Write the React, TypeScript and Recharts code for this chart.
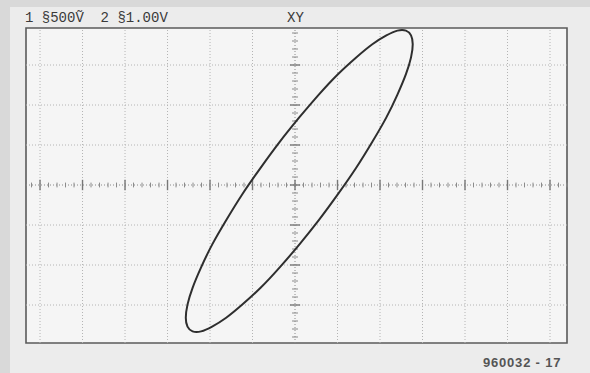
import React from "react";
import {
  LineChart,
  Line,
  XAxis,
  YAxis,
  ReferenceLine,
  ReferenceArea,
} from "recharts";

// XY trace: channel 1 (horizontal) against channel 2 (vertical), in screen divisions
const traceX = [
  0.1, 0.56, 1.01, 1.44, 1.82, 2.15, 2.41, 2.61, 2.73, 2.77, 2.73, 2.61, 2.41,
  2.15, 1.82, 1.44, 1.01, 0.56, 0.1, -0.36, -0.81, -1.24, -1.62, -1.95, -2.21,
  -2.41, -2.53, -2.57, -2.53, -2.41, -2.21, -1.95, -1.62, -1.24, -0.81, -0.36,
  0.1,
];
const traceY = [
  1.69, 2.26, 2.77, 3.19, 3.52, 3.74, 3.86, 3.86, 3.74, 3.52, 3.19, 2.77, 2.26,
  1.69, 1.08, 0.43, -0.23, -0.88, -1.49, -2.06, -2.57, -2.99, -3.32, -3.54,
  -3.66, -3.66, -3.54, -3.32, -2.99, -2.57, -2.06, -1.49, -0.88, -0.23, 0.43,
  1.08, 1.69,
];

// graticule
const gridX = [-6, -5, -4, -3, -2, -1, 1, 2, 3, 4, 5, 6];
const gridY = [-3, -2, -1, 1, 2, 3];
const X_DOMAIN: [number, number] = [-6.33, 6.4];
const Y_DOMAIN: [number, number] = [-3.95, 3.925];

const headerText = "1 §500Ṽ  2 §1.00V";
const modeText = "XY";
const figureText = "960032 - 17";

const data = traceX.map((x, i) => ({ x, y: traceY[i] }));

// minor tick positions on the centre axes (5 per division)
const minorX: number[] = [];
for (let k = -31; k <= 32; k++) minorX.push(k / 5);
const minorY: number[] = [];
for (let k = -19; k <= 19; k++) minorY.push(k / 5);

const GRID = "#b4b4b4";
const AXIS = "#8a8a8a";

export default function App() {
  return (
    <div
      style={{
        position: "absolute",
        left: 0,
        top: 0,
        width: 590,
        height: 373,
        background: "#d9d9d9",
        overflow: "hidden",
      }}
    >
      <div
        style={{
          position: "absolute",
          left: 10,
          top: 7,
          right: 0,
          bottom: 0,
          background: "#ececec",
        }}
      />
      <div style={{ position: "absolute", left: 0, top: 0 }}>
        <LineChart
          width={590}
          height={373}
          data={data}
          margin={{ top: 28, right: 23, bottom: 30, left: 26 }}
        >
          <XAxis
            dataKey="x"
            type="number"
            domain={X_DOMAIN}
            allowDataOverflow
            hide
          />
          <YAxis type="number" domain={Y_DOMAIN} allowDataOverflow hide />
          <ReferenceArea
            x1={X_DOMAIN[0]}
            x2={X_DOMAIN[1]}
            y1={Y_DOMAIN[0]}
            y2={Y_DOMAIN[1]}
            fill="#f5f5f5"
            fillOpacity={1}
            stroke="#5a5a5a"
            strokeWidth={1.6}
          />
          {gridX.map((v) => (
            <ReferenceLine
              key={"gx" + v}
              x={v}
              stroke={GRID}
              strokeDasharray="1 2"
              strokeWidth={1}
            />
          ))}
          {gridY.map((v) => (
            <ReferenceLine
              key={"gy" + v}
              y={v}
              stroke={GRID}
              strokeDasharray="1 2"
              strokeWidth={1}
            />
          ))}
          <ReferenceLine x={0} stroke={AXIS} strokeDasharray="1 2" />
          <ReferenceLine y={0} stroke={AXIS} strokeDasharray="1 2" />
          {minorX.map((v) => {
            const major = Number.isInteger(Math.round(v * 1000) / 1000) && Math.abs(v - Math.round(v)) < 1e-6;
            const h = major ? 0.13 : 0.06;
            return (
              <ReferenceLine
                key={"tx" + v}
                segment={[
                  { x: v, y: -h },
                  { x: v, y: h },
                ]}
                stroke={major ? "#777" : AXIS}
                strokeWidth={major ? 1.4 : 1}
              />
            );
          })}
          {minorY.map((v) => {
            const major = Math.abs(v - Math.round(v)) < 1e-6;
            const w = major ? 0.12 : 0.07;
            return (
              <ReferenceLine
                key={"ty" + v}
                segment={[
                  { x: -w, y: v },
                  { x: w, y: v },
                ]}
                stroke={major ? "#777" : AXIS}
                strokeWidth={major ? 1.4 : 1}
              />
            );
          })}
          <Line
            dataKey="y"
            type="natural"
            stroke="#2e2e2e"
            strokeWidth={2}
            dot={false}
            activeDot={false}
            isAnimationActive={false}
          />
        </LineChart>
      </div>
      <div
        style={{
          position: "absolute",
          left: 25,
          top: 10,
          fontFamily: "'Liberation Mono', 'DejaVu Sans Mono', monospace",
          fontSize: 14,
          color: "#3a3a3a",
          whiteSpace: "pre",
          lineHeight: "16px",
        }}
      >
        {headerText}
      </div>
      <div
        style={{
          position: "absolute",
          left: 287,
          top: 10,
          fontFamily: "'Liberation Mono', 'DejaVu Sans Mono', monospace",
          fontSize: 14,
          color: "#3a3a3a",
          lineHeight: "16px",
        }}
      >
        {modeText}
      </div>
      <div
        style={{
          position: "absolute",
          left: 483,
          top: 355,
          fontFamily: "'Liberation Sans', Arial, sans-serif",
          fontWeight: "bold",
          fontSize: 13,
          letterSpacing: 0.8,
          color: "#555",
          lineHeight: "15px",
          whiteSpace: "pre",
        }}
      >
        {figureText}
      </div>
    </div>
  );
}
